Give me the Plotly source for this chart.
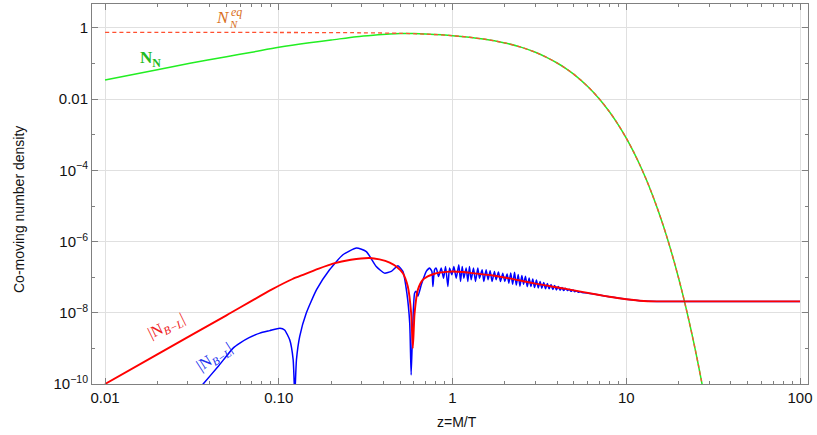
import plotly.graph_objects as go

# ---------------- data ----------------
z_eq = [0.01, 0.1, 0.3, 0.5, 0.7, 1.0, 1.5, 2.0, 2.5, 3.0, 3.5, 4.0, 4.5, 5.0, 6.0, 7.0, 8.0, 9.0,
        10.0, 11.0, 12.0, 13.0, 14.0, 15.0, 16.0, 17.0, 18.0, 19.0, 20.0, 21.0, 22.0, 23.0, 24.0,
        25.0, 26.0, 27.0, 28.0]
n_eq = [0.75, 0.748, 0.734, 0.708, 0.673, 0.609, 0.492, 0.381, 0.285, 0.208, 0.1475, 0.104, 0.0725,
        0.0498, 0.0228, 0.0102, 0.00445, 0.00191, 8.07e-4, 3.37e-4, 1.39e-4, 5.72e-5, 2.33e-5,
        9.43e-6, 3.79e-6, 1.52e-6, 6.05e-7, 2.40e-7, 9.49e-8, 3.74e-8, 1.47e-8, 5.76e-9, 2.25e-9,
        8.78e-10, 3.42e-10, 1.33e-10, 5.14e-11]

z_nn = [0.01, 0.02, 0.0308, 0.05, 0.07, 0.1, 0.15, 0.2, 0.28, 0.35, 0.435, 0.5, 0.6, 0.7, 1.0, 1.5,
        2.0, 2.5, 3.0, 3.5, 4.0, 4.5, 5.0, 6.0, 7.0, 8.0, 9.0, 10.0, 11.0, 12.0, 13.0, 14.0, 15.0,
        16.0, 17.0, 18.0, 19.0, 20.0, 21.0, 22.0, 23.0, 24.0, 25.0, 26.0, 27.0, 28.0]
n_nn = [0.0347, 0.0676, 0.102, 0.156, 0.209, 0.287, 0.384, 0.459, 0.571, 0.63, 0.68, 0.70, 0.695,
        0.675, 0.609, 0.492, 0.381, 0.285, 0.208, 0.1475, 0.104, 0.0725, 0.0498, 0.0228, 0.0102,
        0.00445, 0.00191, 8.07e-4, 3.37e-4, 1.39e-4, 5.72e-5, 2.33e-5, 9.43e-6, 3.79e-6, 1.52e-6,
        6.05e-7, 2.40e-7, 9.49e-8, 3.74e-8, 1.47e-8, 5.76e-9, 2.25e-9, 8.78e-10, 3.42e-10,
        1.33e-10, 5.14e-11]

z_red = [0.01, 0.02, 0.05, 0.0908, 0.12, 0.138, 0.17, 0.205, 0.26, 0.333, 0.38, 0.435, 0.48, 0.518,
         0.553, 0.578, 0.591, 0.605, 0.632, 0.675, 0.72, 0.78, 0.842, 0.92, 1.0, 1.15, 1.31, 1.71,
         2.13, 2.9, 4.5, 7.0, 8.0, 10.0, 12.0, 15.0, 100.0]
n_red = [1.0e-10, 6.8e-10, 8.5e-9, 4.47e-8, 8.9e-8, 1.17e-7, 1.74e-7, 2.4e-7, 3.09e-7, 3.47e-7,
         3.16e-7, 2.57e-7, 1.91e-7, 1.30e-7, 5.5e-8, 9.8e-9, 1.02e-9, 9.8e-9, 4.47e-8, 8.5e-8,
         1.05e-7, 1.23e-7, 1.35e-7, 1.41e-7, 1.45e-7, 1.40e-7, 1.30e-7, 1.12e-7, 9.3e-8, 6.8e-8,
         4.7e-8, 3.16e-8, 2.82e-8, 2.4e-8, 2.19e-8, 2.09e-8, 2.09e-8]

z_blue = [0.034, 0.0367, 0.045, 0.0546, 0.0597, 0.0675, 0.0778, 0.0887, 0.1015, 0.108, 0.1156,
          0.121, 0.1236, 0.1264, 0.132, 0.144, 0.165, 0.196, 0.234, 0.28, 0.319, 0.364, 0.406,
          0.444, 0.485, 0.518, 0.546, 0.567, 0.578, 0.591, 0.605, 0.618, 0.632, 0.661, 0.681,
          0.706, 0.738, 0.761, 0.771, 0.788, 0.806, 0.831, 0.861, 0.888, 0.912, 0.940, 0.961,
          0.991, 1.018, 1.050, 1.087, 1.112, 1.137, 1.162, 1.198, 1.225, 1.252, 1.280, 1.320,
          1.356, 1.398, 1.429, 1.481, 1.514, 1.561, 1.603, 1.646, 1.690, 1.743, 1.782, 1.838,
          1.888, 1.946, 1.999, 2.062, 2.108, 2.163, 2.218, 2.275, 2.328, 2.388, 2.443, 2.506,
          2.564, 2.630, 2.692, 2.761, 2.825, 2.897, 2.965, 3.041, 3.112, 3.192, 3.266, 3.350,
          3.428, 3.516, 3.597, 3.690, 3.776, 3.873, 3.963, 4.064, 4.159, 4.266, 4.365, 4.477,
          4.581, 4.699, 4.808, 4.932, 5.047, 5.176, 5.297, 5.433, 5.559, 5.754, 6.026, 7.0, 8.0,
          10.0, 12.0, 15.0, 100.0]
n_blue = [6.3e-11, 1.0e-10, 3.2e-10, 1.02e-9, 1.41e-9, 2.0e-9, 2.69e-9, 3.16e-9, 3.7e-9, 3.3e-9,
          1.74e-9, 4.8e-10, 5.0e-11, 4.8e-10, 2.19e-9, 9.8e-9, 4.47e-8, 1.62e-7, 4.27e-7, 6.6e-7,
          5.25e-7, 2.0e-7, 1.30e-7, 1.45e-7, 2.09e-7, 1.45e-7, 3.55e-8, 5.1e-9, 1.8e-10, 5.1e-9,
          3.55e-8, 4.0e-8, 2.9e-8, 6.1e-8, 9.4e-8, 1.45e-7, 1.8e-7, 1.45e-7, 5.5e-8, 1.61e-7,
          1.8e-7, 1.05e-7, 1.8e-7, 9.4e-8, 2.0e-7, 5.5e-8, 1.8e-7, 1.17e-7, 2.0e-7, 9.4e-8,
          2.23e-7, 7.6e-8, 2.0e-7, 9.4e-8, 1.8e-7, 7.6e-8, 2.0e-7, 8.5e-8, 1.8e-7, 7.6e-8,
          1.8e-7, 9.4e-8, 1.61e-7, 7.6e-8, 1.61e-7, 8.5e-8, 1.51e-7, 7.6e-8, 1.45e-7, 8.5e-8,
          1.39e-7, 7.6e-8, 1.30e-7, 7.6e-8, 1.22e-7, 6.8e-8, 1.32e-7, 6.3e-8, 1.38e-7, 6.0e-8,
          1.20e-7, 5.6e-8, 1.12e-7, 6.3e-8, 1.07e-7, 5.4e-8, 9.5e-8, 5.5e-8, 8.9e-8, 5.1e-8,
          8.3e-8, 5.0e-8, 7.6e-8, 4.9e-8, 7.1e-8, 4.7e-8, 6.6e-8, 4.7e-8, 6.2e-8, 4.5e-8, 5.8e-8,
          4.4e-8, 5.5e-8, 4.3e-8, 5.1e-8, 4.2e-8, 4.9e-8, 4.2e-8, 4.6e-8, 4.0e-8, 4.4e-8, 3.9e-8,
          4.1e-8, 3.8e-8, 3.9e-8, 3.7e-8, 3.67e-8, 3.55e-8, 3.16e-8, 2.82e-8, 2.4e-8, 2.19e-8,
          2.09e-8, 2.09e-8]

x_tick_vals = [0.01, 0.1, 1, 10, 100]
x_tick_text = ["0.01", "0.10", "1", "10", "100"]
y_tick_vals = [1e-10, 1e-8, 1e-6, 1e-4, 1e-2, 1]
y_tick_text = ["10<sup>−10</sup>", "10<sup>−8</sup>", "10<sup>−6</sup>", "10<sup>−4</sup>", "0.01", "1"]
x_minor = [0.02, 0.03, 0.04, 0.05, 0.06, 0.07, 0.08, 0.09, 0.2, 0.3, 0.4, 0.5, 0.6, 0.7, 0.8, 0.9,
           2, 3, 4, 5, 6, 7, 8, 9, 20, 30, 40, 50, 60, 70, 80, 90]
y_minor = [1e-9, 1e-7, 1e-5, 1e-3, 1e-1]

# ---------------- figure ----------------
W, H = 817, 435
L, R, T, B = 92, 9, 4, 51


def px(xp, yp):
    return (xp - L) / (W - L - R), (H - B - yp) / (H - T - B)


fig = go.Figure()
fig.add_trace(go.Scatter(x=z_nn, y=n_nn, mode="lines",
                         line=dict(color="#22ee22", width=1.5, shape="spline", smoothing=0.8),
                         showlegend=False))
fig.add_trace(go.Scatter(x=z_blue, y=n_blue, mode="lines",
                         line=dict(color="#0000ff", width=1.5, shape="spline", smoothing=0.5),
                         showlegend=False))
fig.add_trace(go.Scatter(x=z_red, y=n_red, mode="lines",
                         line=dict(color="#ff0000", width=1.9, shape="spline", smoothing=0.6),
                         showlegend=False))
fig.add_trace(go.Scatter(x=z_eq, y=n_eq, mode="lines",
                         line=dict(color="#ff5030", width=1.3, dash="4px,3px", shape="spline",
                                   smoothing=0.8),
                         showlegend=False))

axis_common = dict(
    type="log", showline=True, linecolor="#808080", linewidth=1, mirror="allticks",
    ticks="inside", ticklen=6, tickcolor="#808080", tickwidth=1, automargin=False,
    showgrid=True, gridcolor="#e0e0e0", gridwidth=1, zeroline=False,
    tickfont=dict(family="Liberation Sans, Arial", size=15, color="#111"),
)

fig.update_xaxes(range=[-2.075, 2.046], tickmode="array", tickvals=x_tick_vals,
                 ticktext=x_tick_text,
                 minor=dict(tickmode="array", tickvals=x_minor, ticks="inside", ticklen=3,
                            tickcolor="#808080", showgrid=False),
                 **axis_common)
fig.update_yaxes(range=[-10, 0.674], tickmode="array", tickvals=y_tick_vals,
                 ticktext=y_tick_text,
                 minor=dict(tickmode="array", tickvals=y_minor, ticks="inside", ticklen=3,
                            tickcolor="#808080", showgrid=False),
                 **axis_common)

serif = "Liberation Serif, DejaVu Serif, serif"
ann = []


def add_text(xp, yp, text, size, color, angle=0, family=serif):
    x, y = px(xp, yp)
    ann.append(dict(x=x, y=y, xref="paper", yref="paper", text=text, showarrow=False,
                    font=dict(family=family, size=size, color=color), textangle=angle,
                    xanchor="center", yanchor="middle"))


orange = "#d9701c"
add_text(223, 17, "<i>N</i>", 17, orange)
add_text(236, 12, "<i>eq</i>", 12, orange)
add_text(233, 24, "<i>N</i>", 11, orange)
add_text(150, 59, "<b>N<sub>N</sub></b>", 17, "#22bb22")
add_text(166, 326, "|N<sub><i>B−L</i></sub>|", 16, "#ee2020", angle=-26)
add_text(214, 357, "|N<sub><i>B−L</i></sub>|", 16, "#2030ee", angle=-33)
add_text(457, 422, "z=M/T", 14, "#111", family="Liberation Sans, Arial")
ann.append(dict(x=px(19, 210)[0], y=px(19, 210)[1], xref="paper", yref="paper",
                text="Co-moving number density", showarrow=False, textangle=-90,
                font=dict(family="Liberation Sans, Arial", size=14, color="#111"),
                xanchor="center", yanchor="middle"))

fig.update_layout(width=W, height=H, margin=dict(l=L, r=R, t=T, b=B),
                  plot_bgcolor="white", paper_bgcolor="white", annotations=ann)

fig.write_html("out.html", config={"displayModeBar": False},
               post_script="document.body.style.margin='0';document.body.style.overflow='hidden';")
